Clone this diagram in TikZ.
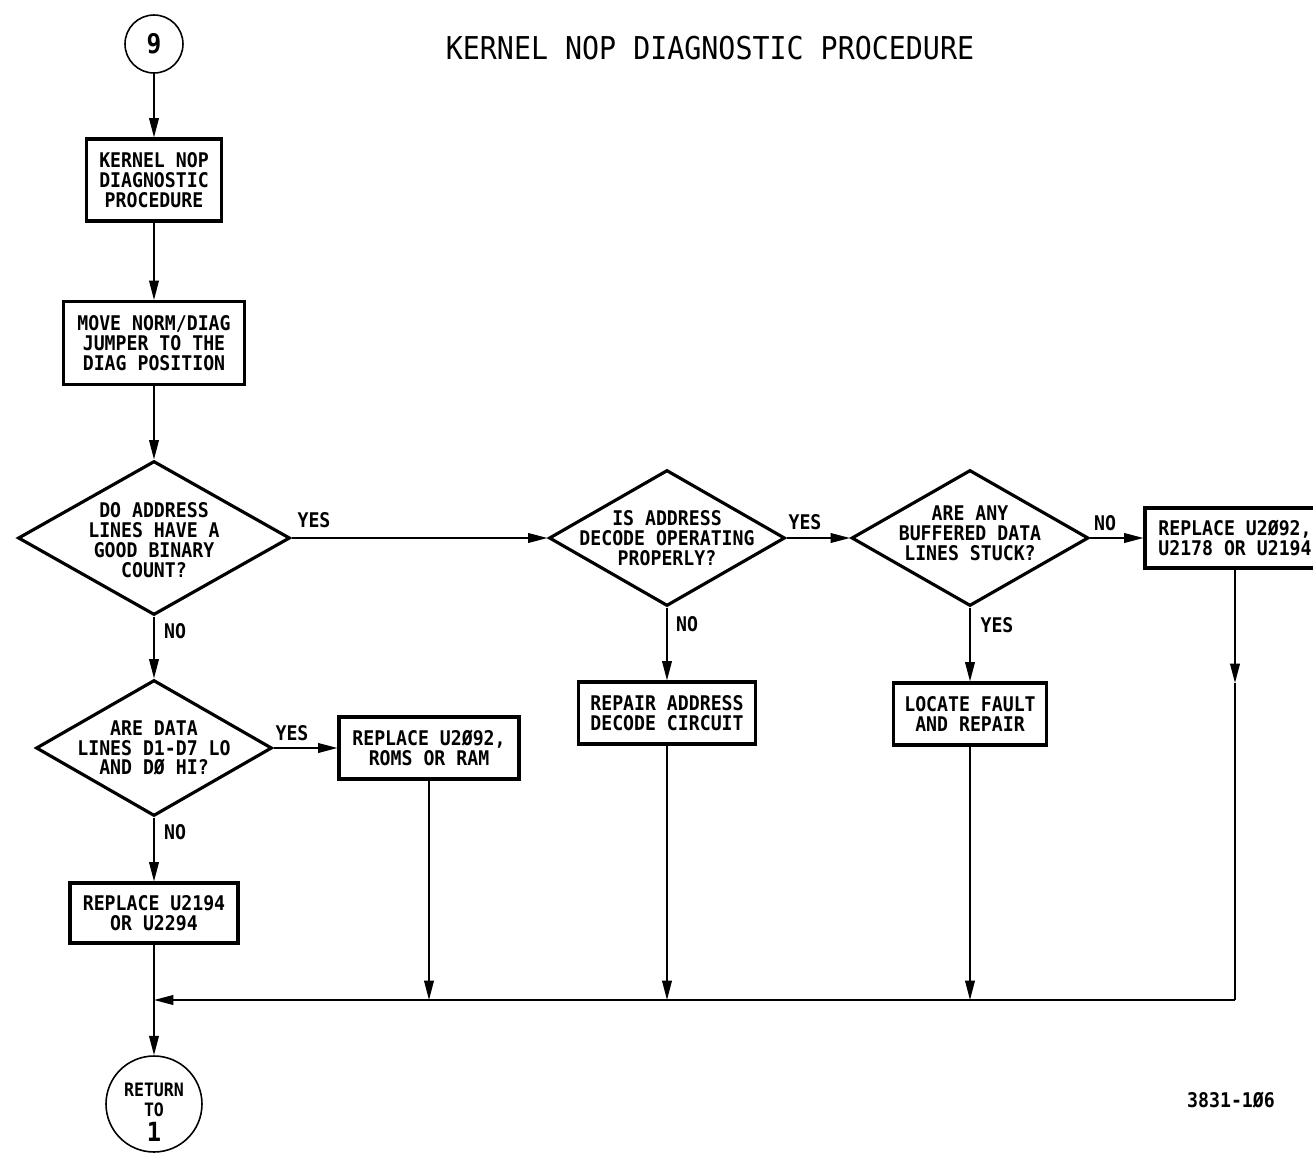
\documentclass[tikz,border=0pt]{standalone}
\usepackage{fontspec}
\newfontfamily\plotfont{DejaVu Sans Mono}[FakeStretch=0.9]
\usetikzlibrary{shapes.geometric,arrows.meta}
\begin{document}
\begin{tikzpicture}[x=0.02cm,y=-0.02cm,
  every node/.style={font=\plotfont\bfseries\fontsize{11.5}{11.3}\selectfont},
  box/.style={draw,line width=1.8pt,align=center,inner sep=0pt},
  dia/.style={draw,diamond,line width=1.8pt,inner sep=0pt},
  dtext/.style={align=center,inner sep=0pt},
  conn/.style={line width=0.9pt},
  arr/.style={conn,-{Triangle[length=11pt,width=5.5pt]}},
  lbl/.style={inner sep=0pt},
  term/.style={draw,circle,line width=0.9pt,inner sep=0pt,align=center}]
\useasboundingbox (0,0) rectangle (1313,1153);
\fill[white] (0,0) rectangle (1313,1153);
\clip (0,0) rectangle (1313,1153);

% title
\node[font=\plotfont\fontsize{17.9}{18}\selectfont] (title) at (710,48) {KERNEL NOP DIAGNOSTIC PROCEDURE};

% terminals
\node[term,minimum size=1.16cm,font=\plotfont\bfseries\fontsize{15.5}{15.5}\selectfont] (c9) at (154,44) {9};
\node[term,minimum size=1.92cm] (ret) at (154,1104) {};
\node[dtext,font=\plotfont\bfseries\fontsize{10.5}{11.2}\selectfont] (rettext) at (154,1100) {RETURN\\TO};
\node[dtext,font=\plotfont\bfseries\fontsize{15}{15}\selectfont] (retnum) at (154,1132) {1};

% boxes
\node[box,minimum width=2.70cm,minimum height=1.64cm] (b1) at (154,180) {KERNEL NOP\\DIAGNOSTIC\\PROCEDURE};
\node[box,minimum width=3.62cm,minimum height=1.66cm] (b2) at (154,343) {MOVE NORM/DIAG\\JUMPER TO THE\\DIAG POSITION};
\node[box,minimum width=3.60cm,minimum height=1.24cm] (b3) at (429,748) {REPLACE U2Ø92,\\ROMS OR RAM};
\node[box,minimum width=3.54cm,minimum height=1.24cm] (b4) at (667,713) {REPAIR ADDRESS\\DECODE CIRCUIT};
\node[box,minimum width=3.36cm,minimum height=1.20cm] (b5) at (154,913) {REPLACE U2194\\OR U2294};
\node[box,minimum width=3.06cm,minimum height=1.24cm] (b6) at (970,714) {LOCATE FAULT\\AND REPAIR};
\node[box,minimum width=3.60cm,minimum height=1.20cm] (b7) at (1235,538) {REPLACE U2Ø92,\\U2178 OR U2194};

% diamonds
\node[dia,minimum width=5.44cm,minimum height=3.08cm] (d1) at (154,538) {};
\node[dtext] (d1t) at (154,540) {DO ADDRESS\\LINES HAVE A\\GOOD BINARY\\COUNT?};
\node[dia,minimum width=4.72cm,minimum height=2.72cm] (d2) at (154,748) {};
\node[dtext] (d2t) at (154,748) {ARE DATA\\LINES D1-D7 LO\\AND DØ HI?};
\node[dia,minimum width=4.72cm,minimum height=2.72cm] (d3) at (667,538) {};
\node[dtext] (d3t) at (667,538) {IS ADDRESS\\DECODE OPERATING\\PROPERLY?};
\node[dia,minimum width=4.74cm,minimum height=2.72cm] (d4) at (970,538) {};
\node[dtext] (d4t) at (970,533) {ARE ANY\\BUFFERED DATA\\LINES STUCK?};

% labels
\node[lbl] (y1) at (314,520) {YES};
\node[lbl] (n1) at (175,631) {NO};
\node[lbl] (y2) at (292,733) {YES};
\node[lbl] (n2) at (175,832) {NO};
\node[lbl] (y3) at (805,522) {YES};
\node[lbl] (n3) at (687,624) {NO};
\node[lbl] (n4) at (1105,523) {NO};
\node[lbl] (y4) at (997,625) {YES};
\node[lbl] (ref) at (1231,1100) {3831-1Ø6};

% connectors
\draw[arr] (c9) -- (b1);
\draw[arr] (b1) -- (b2);
\draw[arr] (b2) -- (d1);
\draw[arr] (d1) -- (d2);
\draw[arr] (d2) -- (b5);
\draw[arr] (d1) -- (d3);
\draw[arr] (d3) -- (d4);
\draw[arr] (d4) -- (b7);
\draw[arr] (d2) -- (b3);
\draw[arr] (d3) -- (b4);
\draw[arr] (d4) -- (b6);

\coordinate (j1) at (154,1000);
\coordinate (j3) at (429,1000);
\coordinate (j4) at (667,1000);
\coordinate (j6) at (970,1000);
\coordinate (j7) at (1235,1000);
\coordinate (m7) at (1235,683);
\draw[arr] (b3.south) -- (j3);
\draw[arr] (b4.south) -- (j4);
\draw[arr] (b6.south) -- (j6);
\draw[arr] (b7.south) -- (m7);
\draw[conn] (m7) -- (j7);
\draw[arr] (j7) -- (j1);
\draw[conn] (b5.south) -- (j1);
\draw[arr] (j1) -- (ret);
\end{tikzpicture}
\end{document}
